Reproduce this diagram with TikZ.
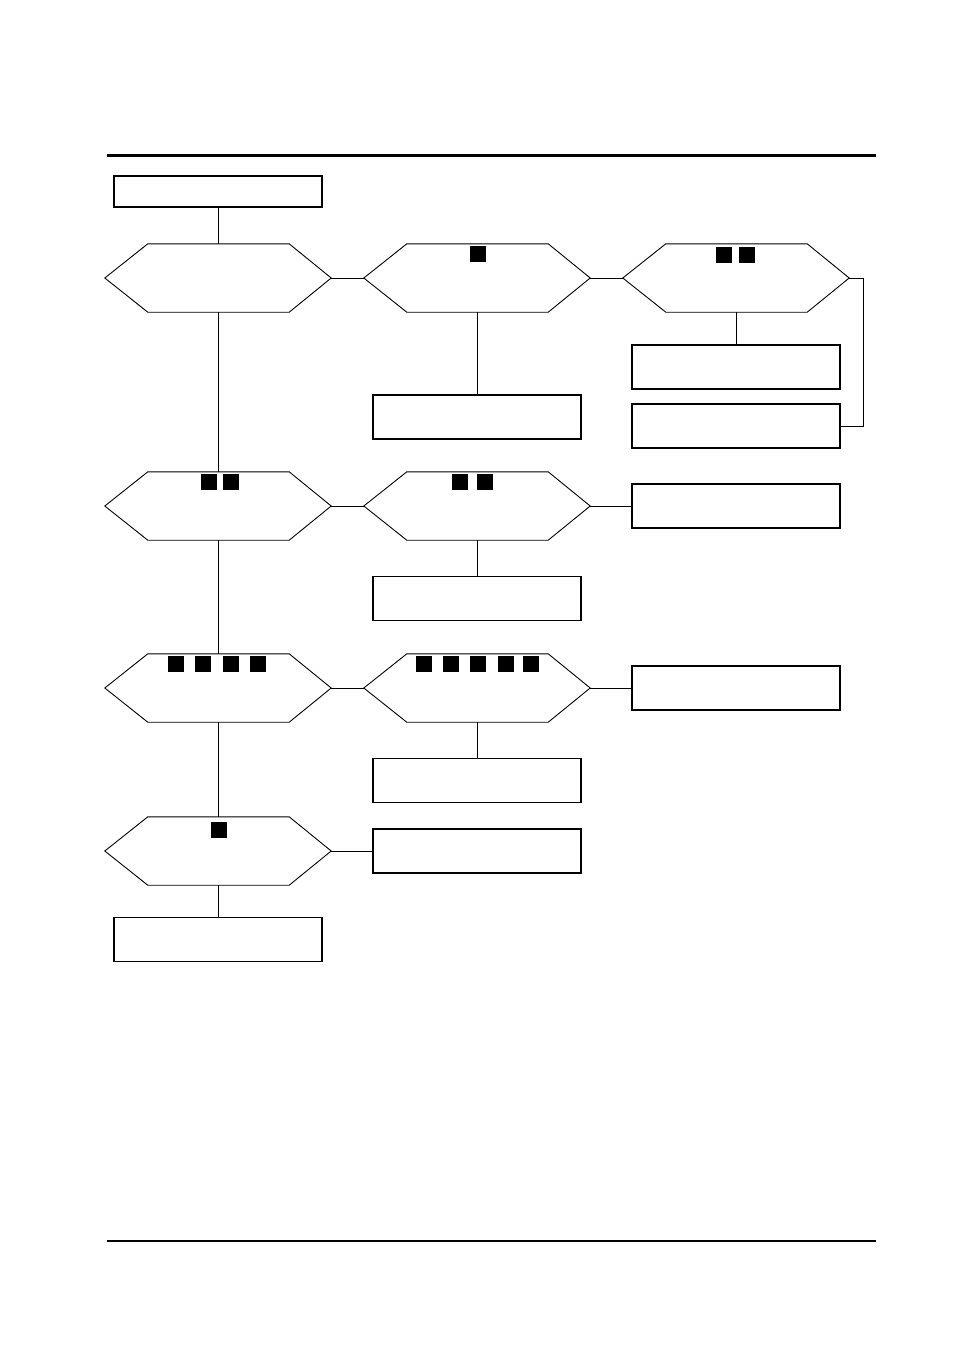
\documentclass[tikz,border=0pt]{standalone}
\usepackage{tikz}
\usetikzlibrary{calc}
\tikzset{blk/.style={draw,line width=1.2pt,minimum width=208pt,minimum height=44pt,inner sep=0pt},dec/.style={minimum width=226pt,minimum height=68pt,inner sep=0pt},led/.style={fill=black,minimum size=16pt,inner sep=0pt},wire/.style={line width=1pt}}

\begin{document}
\begin{tikzpicture}[x=1pt,y=-1pt]
\useasboundingbox (0,0) rectangle (954,1350);
\draw[line width=3pt] (107,155) -- (876,155);
\draw[line width=2pt] (107,1241) -- (876,1241);
% decisions
\node[dec] (d11) at (218,278) {};
\node[dec] (d12) at (477,278) {};
\node[dec] (d13) at (736,278) {};
\node[dec] (d21) at (218,506) {};
\node[dec] (d22) at (477,506) {};
\node[dec] (d31) at (218,688) {};
\node[dec] (d32) at (477,688) {};
\node[dec] (d41) at (218,851) {};
\foreach \n in {d11,d12,d13,d21,d22,d31,d32,d41}
  \draw[line width=0.9pt] (\n.west) -- ($(\n.north west)+(43,0)$) -- ($(\n.north east)+(-42,0)$) -- (\n.east) -- ($(\n.south east)+(-42,0)$) -- ($(\n.south west)+(43,0)$) -- cycle;
% boxes
\node[blk,minimum height=31pt] (start) at (218,191.5) {};
\node[blk] (b12) at (477,417) {};
\node[blk] (b13a) at (736,367) {};
\node[blk] (b13b) at (736,426) {};
\node[blk] (b22r) at (736,506) {};
\node[blk] (b22) at (477,598.5) {};
\node[blk] (b32r) at (736,688) {};
\node[blk] (b32) at (477,780.5) {};
\node[blk] (b41r) at (477,851) {};
\node[blk] (b41) at (218,939.5) {};
% indicators
\node[led] (l12) at (478,254) {};
\node[led] (l13a) at (724,255) {};
\node[led] (l13b) at (747,255) {};
\node[led] (l21a) at (209,482) {};
\node[led] (l21b) at (231,482) {};
\node[led] (l22a) at (460,482) {};
\node[led] (l22b) at (485,482) {};
\node[led] (l31a) at (176,664) {};
\node[led] (l31b) at (203,664) {};
\node[led] (l31c) at (231,664) {};
\node[led] (l31d) at (258,664) {};
\node[led] (l32a) at (424,664) {};
\node[led] (l32b) at (451,664) {};
\node[led] (l32c) at (478,664) {};
\node[led] (l32d) at (506,664) {};
\node[led] (l32e) at (531,664) {};
\node[led] (l41) at (219,830) {};
% connectors
\coordinate (k13) at (863,278);
\draw[wire] (start)--(d11.north);
\draw[wire] (d11.east)--(d12.west);\draw[wire] (d12.east)--(d13.west);
\draw[wire] (d12.south)--(b12);\draw[wire] (d13.south)--(b13a);
\draw[wire] (d13.east)--(k13)|-(b13b.east);
\draw[wire] (d11.south)--(d21.north);
\draw[wire] (d21.east)--(d22.west);\draw[wire] (d22.east)--(b22r.west);
\draw[wire] (d22.south)--(b22);
\draw[wire] (d21.south)--(d31.north);
\draw[wire] (d31.east)--(d32.west);\draw[wire] (d32.east)--(b32r.west);
\draw[wire] (d32.south)--(b32);
\draw[wire] (d31.south)--(d41.north);
\draw[wire] (d41.east)--(b41r.west);\draw[wire] (d41.south)--(b41);
\end{tikzpicture}
\end{document}
